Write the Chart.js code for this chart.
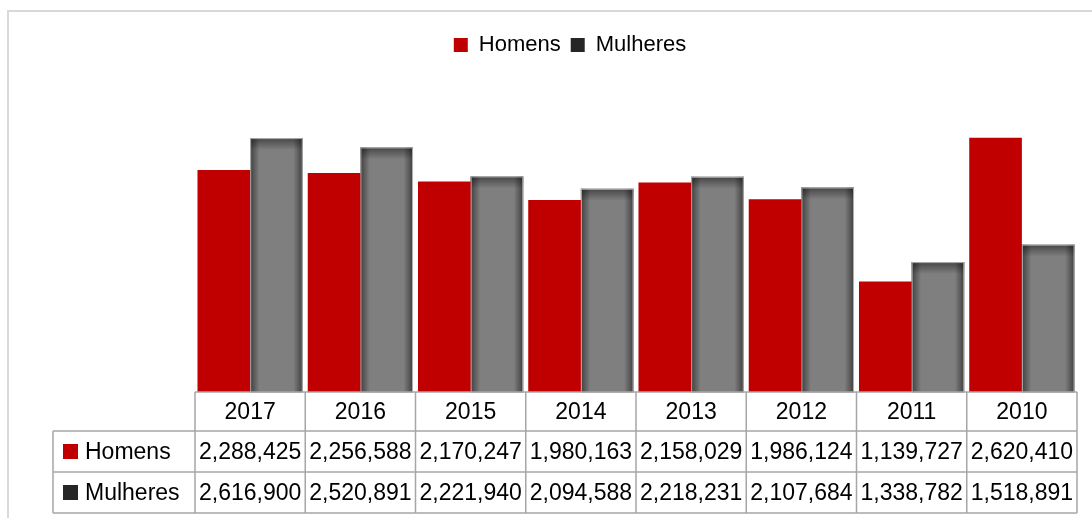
<!DOCTYPE html>
<html>
<head>
<meta charset="utf-8">
<script src="https://cdn.jsdelivr.net/npm/chart.js"></script>
<style>
html, body { margin: 0; padding: 0; background: #fff; overflow: hidden; }
#frame { position: absolute; left: 7px; top: 10px; width: 1200px; height: 600px; border: 2px solid #d9d9d9; }
#wrap { position: absolute; left: 0; top: 0; width: 1092px; height: 518px; }
</style>
</head>
<body>
<div id="frame"></div>
<div id="wrap"><canvas id="myChart"></canvas></div>
<script>
var years = ['2017', '2016', '2015', '2014', '2013', '2012', '2011', '2010'];
var homens = [2288425, 2256588, 2170247, 1980163, 2158029, 1986124, 1139727, 2620410];
var mulheres = [2616900, 2520891, 2221940, 2094588, 2218231, 2107684, 1338782, 1518891];
var seriesNames = ['Homens', 'Mulheres'];
var barColors = ['#c00000', '#7f7f7f'];
var keyColors = ['#c00000', '#262626'];

var FONT = '"Liberation Sans", Arial, sans-serif';

// darker edges on the grey bars, like the excel bevel
var bevelPlugin = {
    id: 'bevel',
    afterDatasetDraw: function (chart, args) {
        if (args.index !== 1) return;
        var ctx = chart.ctx;
        args.meta.data.forEach(function (el) {
            var p = el.getProps(['x', 'y', 'base', 'width'], true);
            var left = p.x - p.width / 2, right = p.x + p.width / 2;
            var top = p.y, bottom = p.base;
            ctx.save();
            var g = ctx.createLinearGradient(left, 0, right, 0);
            g.addColorStop(0, 'rgba(0,0,0,0.5)');
            g.addColorStop(0.18, 'rgba(0,0,0,0)');
            g.addColorStop(0.82, 'rgba(0,0,0,0)');
            g.addColorStop(1, 'rgba(0,0,0,0.5)');
            ctx.fillStyle = g;
            ctx.fillRect(left, top, right - left, bottom - top);
            var v = ctx.createLinearGradient(0, top, 0, top + 12);
            v.addColorStop(0, 'rgba(0,0,0,0.45)');
            v.addColorStop(1, 'rgba(0,0,0,0)');
            ctx.fillStyle = v;
            ctx.fillRect(left, top, right - left, 12);
            ctx.strokeStyle = 'rgba(190,190,190,0.9)';
            ctx.lineWidth = 1;
            ctx.strokeRect(left + 0.5, top + 0.5, right - left - 1, bottom - top);
            ctx.restore();
        });
    }
};

// data table under the bars
var tablePlugin = {
    id: 'dataTable',
    afterDraw: function (chart) {
        var ctx = chart.ctx;
        var xs = chart.scales.x;
        var area = chart.chartArea;
        var colW = (area.right - area.left) / years.length;
        var rows = [area.bottom, area.bottom + 39, area.bottom + 80, area.bottom + 121];
        var keyLeft = 53;
        var series = [homens, mulheres];

        ctx.save();
        ctx.strokeStyle = '#a6a6a6';
        ctx.lineWidth = 1.5;
        ctx.beginPath();
        ctx.moveTo(area.left, rows[0]); ctx.lineTo(area.right, rows[0]);
        for (var r = 1; r < rows.length; r++) {
            ctx.moveTo(keyLeft, rows[r]); ctx.lineTo(area.right, rows[r]);
        }
        for (var c = 0; c <= years.length; c++) {
            var x = area.left + c * colW;
            ctx.moveTo(x, rows[0]); ctx.lineTo(x, rows[3]);
        }
        ctx.moveTo(keyLeft, rows[1]); ctx.lineTo(keyLeft, rows[3]);
        ctx.stroke();

        ctx.fillStyle = '#000';
        ctx.font = '23px ' + FONT;
        ctx.textAlign = 'center';
        ctx.textBaseline = 'middle';
        years.forEach(function (y, i) {
            var cx = xs.getPixelForValue(i);
            ctx.fillText(y, cx, (rows[0] + rows[1]) / 2 + 1);
            series.forEach(function (s, k) {
                ctx.fillText(s[i].toLocaleString('en-US'), cx, (rows[k + 1] + rows[k + 2]) / 2 + 1);
            });
        });

        ctx.textAlign = 'left';
        seriesNames.forEach(function (name, k) {
            var cy = (rows[k + 1] + rows[k + 2]) / 2;
            ctx.fillStyle = keyColors[k];
            ctx.fillRect(63, cy - 7.5, 15, 15);
            ctx.fillStyle = '#000';
            ctx.fillText(name, 85, cy + 1);
        });
        ctx.restore();
    }
};

var ctx = document.getElementById('myChart').getContext('2d');
var myChart = new Chart(ctx, {
    type: 'bar',
    data: {
        labels: years,
        datasets: [{
            label: seriesNames[0],
            data: homens,
            backgroundColor: barColors[0],
            borderWidth: 0
        }, {
            label: seriesNames[1],
            data: mulheres,
            backgroundColor: barColors[1],
            borderWidth: 0
        }]
    },
    options: {
        responsive: true,
        maintainAspectRatio: false,
        animation: false,
        datasets: {
            bar: { categoryPercentage: 0.955, barPercentage: 1.0 }
        },
        layout: {
            padding: { top: 24, left: 63, right: 15, bottom: 126 }
        },
        scales: {
            x: { display: false },
            y: {
                min: 0, max: 3360000,
                ticks: { display: false },
                grid: { display: false },
                border: { display: false },
                afterFit: function (scale) { scale.width = 132; }
            }
        },
        plugins: {
            tooltip: { enabled: false },
            legend: {
                position: 'top',
                labels: {
                    font: { size: 22, family: FONT },
                    color: '#595959',
                    boxWidth: 14,
                    boxHeight: 14,
                    padding: 10,
                    generateLabels: function (chart) {
                        return seriesNames.map(function (n, i) {
                            return {
                                text: n,
                                fillStyle: keyColors[i],
                                strokeStyle: keyColors[i],
                                lineWidth: 0,
                                datasetIndex: i,
                                hidden: false
                            };
                        });
                    }
                }
            }
        }
    },
    plugins: [bevelPlugin, tablePlugin]
});
</script>
</body>
</html>
